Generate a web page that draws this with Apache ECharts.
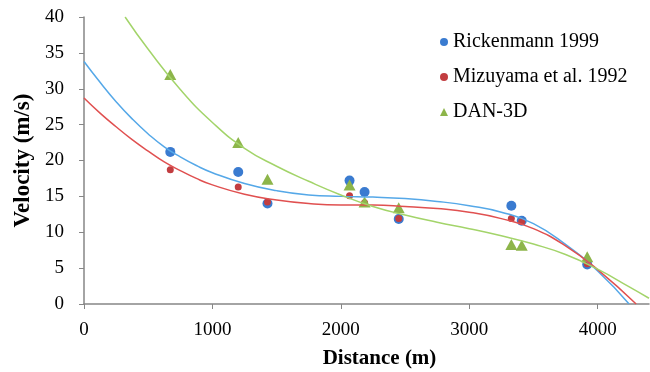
<!DOCTYPE html>
<html>
<head>
<meta charset="utf-8">
<script src="https://cdn.jsdelivr.net/npm/echarts@6/dist/echarts.min.js"></script>
<style>html,body{margin:0;padding:0;background:#fff;}#c{width:650px;height:372px;}</style>
</head>
<body>
<div id="c"></div>
<script>
// ---- data ----
const seriesNames = ['Rickenmann 1999', 'Mizuyama et al. 1992', 'DAN-3D'];
const distance = [672, 1201, 1429, 2068, 2185, 2451, 3328, 3409, 3919];
const rickenmann = [21.2, 18.4, 14.0, 17.2, 15.6, 11.85, 13.7, 11.6, 5.5];
const mizuyama = [18.7, 16.3, 14.2, 15.1, 14.1, 11.9, 11.9, 11.5, 5.6];
const dan3d = [32.0, 22.5, 17.4, 16.6, 14.2, 13.4, 8.3, 8.2, 6.6];

// trend lines
const trendRickX = [0, 125, 250, 375, 500, 625, 750, 875, 1000, 1250, 1500, 1750, 2000, 2250, 2500, 2750, 3000, 3250, 3500, 3750, 4000, 4245];
const trendRickY = [33.8, 30.9, 28.2, 25.8, 23.7, 21.9, 20.5, 19.3, 18.3, 16.8, 15.8, 15.2, 15.0, 14.9, 14.7, 14.3, 13.7, 12.8, 11.2, 8.3, 4.6, 0];
const trendMizuX = [0, 125, 250, 375, 500, 625, 750, 875, 1000, 1250, 1500, 1750, 2000, 2250, 2500, 2750, 3000, 3250, 3500, 3750, 4000, 4300];
const trendMizuY = [28.7, 26.6, 24.7, 22.9, 21.3, 19.8, 18.6, 17.5, 16.6, 15.3, 14.5, 14.0, 13.8, 13.8, 13.6, 13.3, 12.8, 11.9, 10.5, 8.1, 4.8, 0];
const trendDanX = [320, 500, 750, 1000, 1250, 1500, 1750, 2000, 2250, 2500, 2750, 3000, 3250, 3500, 3750, 4000, 4250, 4400];
const trendDanY = [40, 35.5, 29.9, 25.3, 21.7, 19.2, 17.1, 15.2, 13.6, 12.4, 11.4, 10.5, 9.5, 8.35, 6.9, 4.85, 2.35, 0.8];

const xTicks = [0, 1000, 2000, 3000, 4000];
const yTicks = [0, 5, 10, 15, 20, 25, 30, 35, 40];

const zip = (xs, ys) => xs.map((x, i) => [x, ys[i]]);

const font = 'Liberation Serif';
const axisColor = '#868686';

const chart = echarts.init(document.getElementById('c'), null, {renderer: 'canvas'});
chart.setOption({
  backgroundColor: '#fff',
  animation: false,
  grid: {left: 84, right: 1, top: 17, bottom: 68, containLabel: false, outerBoundsMode: 'none'},
  legend: {
    orient: 'vertical',
    left: 435,
    top: 27,
    itemWidth: 8,
    itemHeight: 8,
    itemGap: 15,
    itemTextGap: 6,
    textStyle: {fontFamily: font, fontSize: 20, color: '#000'},
    data: seriesNames
  },
  xAxis: {
    type: 'value', min: 0, max: 4400, interval: 1000,
    name: 'Distance (m)', nameLocation: 'middle', nameGap: 44,
    nameTextStyle: {fontFamily: font, fontSize: 21, fontWeight: 'bold', color: '#000', padding: [0, 0, 0, 26]},
    axisLine: {lineStyle: {color: axisColor, width: 1.5}},
    axisTick: {show: true, inside: false, length: 5, lineStyle: {color: axisColor}, customValues: xTicks},
    axisLabel: {fontFamily: font, fontSize: 19, color: '#000', margin: 17, customValues: xTicks,
      formatter: v => String(v)},
    splitLine: {show: false}
  },
  yAxis: {
    type: 'value', min: 0, max: 40, interval: 5,
    name: 'Velocity (m/s)', nameLocation: 'middle', nameGap: 49,
    nameTextStyle: {fontFamily: font, fontSize: 23, fontWeight: 'bold', color: '#000'},
    axisLine: {show: true, lineStyle: {color: axisColor, width: 1.5}},
    axisTick: {show: true, inside: false, length: 5, lineStyle: {color: axisColor}, customValues: yTicks},
    axisLabel: {fontFamily: font, fontSize: 19, color: '#000', margin: 20, customValues: yTicks,
      formatter: v => String(v)},
    splitLine: {show: false}
  },
  series: [
    {name: seriesNames[0], type: 'scatter', symbol: 'circle', symbolSize: 10, z: 2,
     itemStyle: {color: '#3a7bd0', opacity: 1}, data: zip(distance, rickenmann)},
    {name: seriesNames[1], type: 'scatter', symbol: 'circle', symbolSize: 7, z: 3,
     itemStyle: {color: '#c23d40', opacity: 1}, data: zip(distance, mizuyama)},
    {name: seriesNames[2], type: 'scatter', symbol: 'triangle', symbolSize: [12, 11], z: 4,
     itemStyle: {color: '#8db54a', opacity: 1}, data: zip(distance, dan3d)},
    {name: 'trend1', type: 'line', smooth: 0.5, showSymbol: false, symbol: 'none', clip: true, z: 5,
     lineStyle: {color: '#55a8e8', width: 1.5}, data: zip(trendRickX, trendRickY)},
    {name: 'trend2', type: 'line', smooth: 0.5, showSymbol: false, symbol: 'none', clip: true, z: 5,
     lineStyle: {color: '#e05050', width: 1.5}, data: zip(trendMizuX, trendMizuY)},
    {name: 'trend3', type: 'line', smooth: 0.5, showSymbol: false, symbol: 'none', clip: true, z: 5,
     lineStyle: {color: '#a3d46a', width: 1.5}, data: zip(trendDanX, trendDanY)}
  ]
});
</script>
</body>
</html>
